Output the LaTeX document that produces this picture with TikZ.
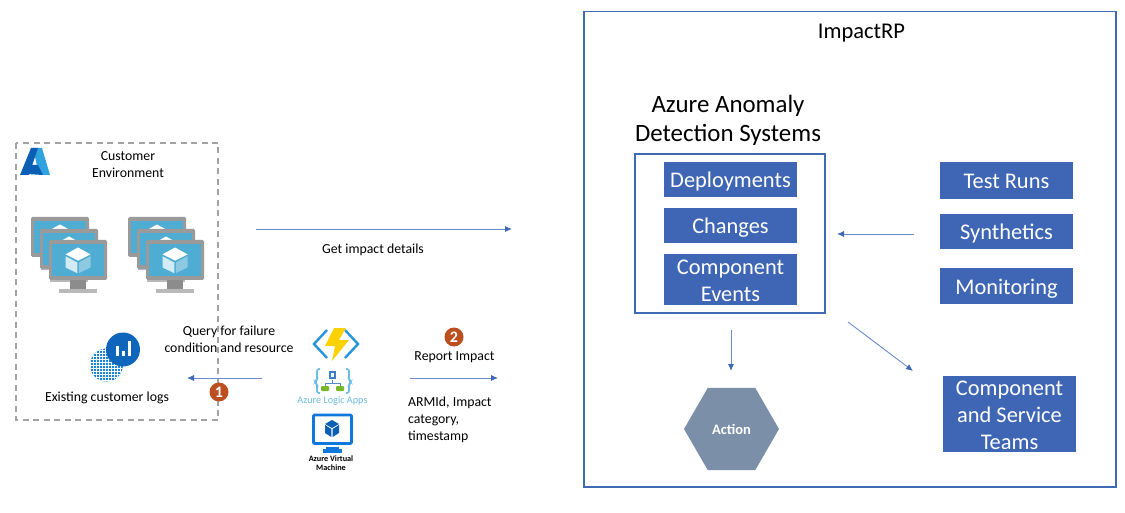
\documentclass[tikz,border=0pt]{standalone}
\usepackage{fontspec}
\setmainfont{Carlito}
\usetikzlibrary{arrows.meta,shapes.geometric}
\definecolor{bluebox}{HTML}{3F66B5}
\definecolor{frameblue}{HTML}{3E69B4}
\definecolor{arrowblue}{HTML}{6C8DCB}
\definecolor{badge}{HTML}{BC4F1F}
\definecolor{hexc}{HTML}{7C8FA9}
\definecolor{monframe}{HTML}{9A9A9A}
\definecolor{monscreen}{HTML}{4FADD3}
\definecolor{azdark}{HTML}{0B5FB5}
\definecolor{azlight}{HTML}{2FA3E0}
\definecolor{logicb}{HTML}{6BBDE3}
\definecolor{logicg}{HTML}{76B82A}
\definecolor{vmblue}{HTML}{0F78DC}
\definecolor{dashgray}{HTML}{A3A3A3}
\newcommand{\dnby}[2]{\raisebox{-#1pt}[\height][\depth]{#2}}
\tikzset{
 x=1pt,y=-1pt,
 fillbox/.style={fill=bluebox,text=white,align=center,inner sep=0pt,font=\fontsize{22.4}{27}\selectfont,minimum width=133pt},
 flow/.style={draw=arrowblue,line width=0.9pt,-{Latex[length=7pt,width=6pt,color=frameblue,fill=frameblue]}},
 lab/.style={align=center,inner sep=0pt,font=\fontsize{13.8}{17}\selectfont,text=black},
 num/.style={circle,fill=badge,text=white,inner sep=0pt,minimum size=19pt,font=\fontsize{16}{16}\selectfont\bfseries},
}
\newcommand{\cubeicon}[3]{%
 \fill[white] (#1,#2-#3) -- (#1+#3,#2-#3*0.45) -- (#1,#2+#3*0.05) -- (#1-#3,#2-#3*0.45) -- cycle;
 \fill[white!75!monscreen] (#1-#3,#2-#3*0.3) -- (#1-0.06*#3,#2+#3*0.2) -- (#1-0.06*#3,#2+#3*1.05) -- (#1-#3,#2+#3*0.6) -- cycle;
 \fill[white!35!monscreen] (#1+#3,#2-#3*0.3) -- (#1+0.06*#3,#2+#3*0.2) -- (#1+0.06*#3,#2+#3*1.05) -- (#1+#3,#2+#3*0.6) -- cycle;
}
\newcommand{\vmone}[2]{%
 \begin{scope}[shift={(#1,#2)}]
  \fill[gray!90] (21,39) rectangle (37,49);
  \fill[gray!55] (10,49) rectangle (48,53);
  \fill[monframe,rounded corners=1.5pt] (0,0) rectangle (58,40);
  \fill[monscreen] (3,4) rectangle (55,36);
  \cubeicon{29}{20}{12.5}
 \end{scope}}
\newcommand{\vmstack}[2]{%
 \vmone{#1-18}{#2-23}\vmone{#1-9}{#2-11}\vmone{#1}{#2}}
\begin{document}
\begin{tikzpicture}
\useasboundingbox (0,0) rectangle (1125,513);
\fill[white] (0,0) rectangle (1125,513);

% customer environment
\draw[dashgray,line width=1.4pt,dash pattern=on 6pt off 4.5pt] (16,143) rectangle (218,420);
\node[lab] (cust) at (128,164.5) {Customer\\Environment};
% Azure logo
\fill[azlight] (33,148) -- (42,148) -- (50,175) -- (39,175) -- cycle;
\fill[azdark] (31,148) -- (38,148) -- (29,175) -- (20,175) -- cycle;
\fill[azdark] (30,165) -- (38,165) -- (43,175) -- (27,174) -- cycle;
\vmstack{49}{240}
\vmstack{146}{240}

% logs icon
\begin{scope}
 \clip (106.5,365) circle (16.5);
 \fill[azlight!30!vmblue] (88,346) rectangle (125,384);
 \foreach \i in {0,...,11}{\draw[white,line width=0.4pt] (90+3*\i,346) -- (90+3*\i,384);}
 \foreach \i in {0,...,12}{\draw[white,line width=0.4pt] (88,347+3*\i) -- (125,347+3*\i);}
\end{scope}
\fill[vmblue!85!black] (123,349.5) circle (17);
\fill[white] (115.5,346) rectangle (118.5,356);
\fill[white] (121.5,351) rectangle (124.5,356);
\fill[white] (127.5,341) rectangle (130.5,356);
\node[lab] (logs) at (107,397.5) {Existing customer logs};

% center labels
\node[lab] (query) at (229,339) {Query for failure\\condition and resource};
\node[lab] (impact) at (373,250) {Get impact details};
\node[lab] (report) at (454.5,357) {Report Impact};
\node[lab,align=left,anchor=west] (armid) at (408,419.5) {ARMId, Impact\\category,\\timestamp};
\node[num] (n1) at (219,392) {1};
\node[num] (n2) at (454,337) {2};

% function icon
\draw[azlight!70!vmblue,line width=2.4pt] (327,330) -- (314,344) -- (327,358);
\draw[azlight!70!vmblue,line width=2.4pt] (345,330) -- (358,344) -- (345,358);
\fill[yellow!70!orange] (334,328) -- (346,328) -- (339,340) -- (349,340) -- (332,361) -- (335,346) -- (325,346) -- cycle;

% logic apps icon
\draw[logicb,line width=1.6pt,rounded corners=2pt] (320,369) -- (317,369) -- (317,380) -- (315,382) -- (317,384) -- (317,393) -- (320,393);
\draw[logicb,line width=1.6pt,rounded corners=2pt] (346,369) -- (349,369) -- (349,380) -- (351,382) -- (349,384) -- (349,393) -- (346,393);
\draw[azdark!70,line width=1pt] (332.5,380) -- (332.5,383) -- (325,383) -- (325,388);
\draw[azdark!70,line width=1pt] (332.5,383) -- (340,383) -- (340,388);
\fill[azdark!80] (329,371) rectangle (336,379);
\fill[white] (331,373) rectangle (334,377);
\fill[logicg,rounded corners=1pt] (321,386) rectangle (329,391);
\fill[logicg,rounded corners=1pt] (336,386) rectangle (344,391);
\node[inner sep=0pt,font=\fontsize{10.2}{12}\selectfont,text=logicb] (logicapps) at (332.5,401) {Azure Logic Apps};

% azure vm icon
\fill[vmblue] (323,453) -- (342,453) -- (342,449) -- (323,449) -- cycle;
\fill[vmblue] (326,447) rectangle (339,451);
\draw[vmblue,line width=2.6pt,rounded corners=1pt] (313.5,415) rectangle (351.5,443.5);
\fill[azdark] (332,420) -- (339,424) -- (332,428) -- (325,424) -- cycle;
\fill[azdark] (325,425) -- (331.3,429) -- (331.3,437) -- (325,433) -- cycle;
\fill[azdark] (339,425) -- (332.7,429) -- (332.7,437) -- (339,433) -- cycle;
\node[inner sep=0pt,align=center,font=\fontsize{8.2}{8.8}\selectfont\bfseries] (azvm) at (331,463) {Azure Virtual\\Machine};

% ImpactRP
\draw[frameblue,line width=1.4pt] (584,11.5) rectangle (1116,487);
\node[inner sep=0pt,font=\fontsize{22.5}{27}\selectfont] (irp) at (861.5,33.5) {ImpactRP};
\node[align=center,inner sep=0pt,font=\fontsize{24.9}{29}\selectfont] (ads) at (728,120) {Azure Anomaly\\Detection Systems};
\draw[frameblue,line width=1.6pt] (635,154) rectangle (825,313);
\coordinate (adsright) at (837,234);
\coordinate (adsbot) at (731,330);
\coordinate (adsdiag) at (848,322);
\node[fillbox,minimum height=35pt] (dep) at (730.5,179.5) {\dnby{2}{Deployments}};
\node[fillbox,minimum height=35pt] (chg) at (730.5,225.5) {\dnby{2}{Changes}};
\node[fillbox,minimum height=51pt] (ce) at (730.5,279.5) {\dnby{1}{Component}\\\dnby{1}{Events}};
\node[fillbox,minimum height=37pt] (tr) at (1006.5,180.5) {\dnby{1}{Test Runs}};
\node[fillbox,minimum height=35pt] (syn) at (1006.5,231.5) {\dnby{2}{Synthetics}};
\node[fillbox,minimum height=36pt] (mon) at (1006.5,286) {\dnby{3}{Monitoring}};
\node[fillbox,minimum height=76pt] (team) at (1009.5,414) {\dnby{1}{Component}\\\dnby{1}{and Service}\\\dnby{1}{Teams}};
\node[regular polygon,regular polygon sides=6,fill=hexc,text=white,inner sep=0pt,minimum size=95pt,font=\fontsize{14.5}{16}\selectfont\bfseries] (act) at (731.5,429) {Action};

% connectors
\coordinate (a1) at (256,229); \coordinate (a2) at (512,229);
\draw[flow] (a1) -- (a2);
\coordinate (b1) at (914,234);
\draw[flow] (b1) -- (adsright);
\coordinate (c2) at (731,371);
\draw[flow] (adsbot) -- (c2);
\coordinate (d2) at (913,371);
\draw[flow] (adsdiag) -- (d2);
\coordinate (e1) at (262,378); \coordinate (e2) at (187,378);
\draw[flow] (e1) -- (e2);
\coordinate (f1) at (410,378); \coordinate (f2) at (498,378);
\draw[flow] (f1) -- (f2);
\end{tikzpicture}
\end{document}
